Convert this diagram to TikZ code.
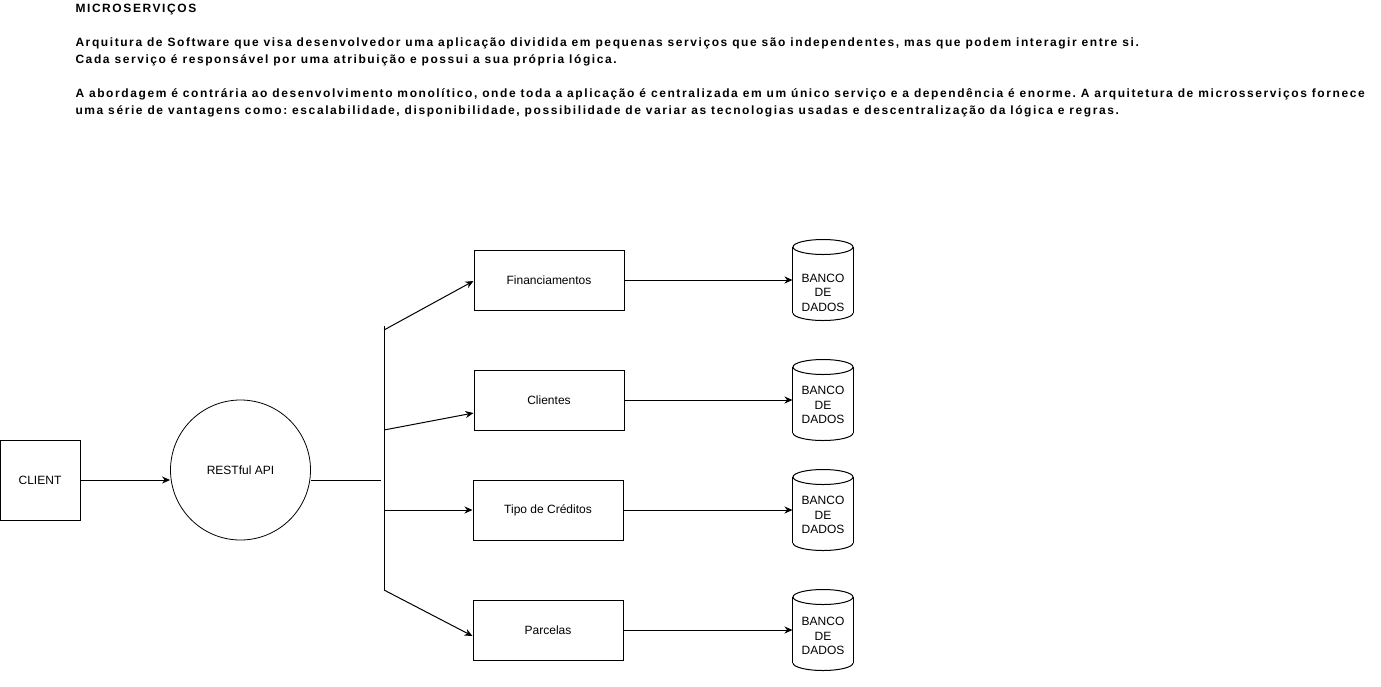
\documentclass[tikz,border=0pt]{standalone}
\usepackage{fontspec}
\setmainfont{Liberation Sans}
\newfontfamily\hdrfont[LetterSpace=13.2]{Liberation Sans}
\usetikzlibrary{arrows.meta,calc}
\frenchspacing
\begin{document}
\begin{tikzpicture}[x=1pt,y=-1pt,line width=1pt,
  txt/.style={font=\fontsize{12}{14.4}\selectfont},
  box/.style={draw,rectangle,minimum width=150pt,minimum height=60pt,inner sep=0pt,txt},
  dbshape/.style={rectangle,minimum width=60pt,minimum height=80pt,inner sep=0pt},
  dbtext/.style={txt,align=center,inner sep=0pt},
  arr/.style={-{Stealth[length=8pt,width=7pt,inset=2.5pt]}},
  plain/.style={-}]
\useasboundingbox (0,0) rectangle (1381,686);

% header text
\node[anchor=north west,inner sep=0pt,align=left,font=\hdrfont\bfseries\fontsize{12}{17}\selectfont] (header) at (75,3.2)
{MICROSERVIÇOS\\[17pt]
Arquitura de Software que visa desenvolvedor uma aplicação dividida em pequenas serviços que são independentes, mas que podem interagir entre si.\\
Cada serviço é responsável por uma atribuição e possui a sua própria lógica.\\[17pt]
A abordagem é contrária ao desenvolvimento monolítico, onde toda a aplicação é centralizada em um único serviço e a dependência é enorme. A arquitetura de microsserviços fornece\\
uma série de vantagens como: escalabilidade, disponibilidade, possibilidade de variar as tecnologias usadas e descentralização da lógica e regras.};

% client and api
\node[draw,rectangle,minimum width=80pt,minimum height=80pt,inner sep=0pt,txt] (client) at (40,480) {CLIENT};
\node[draw,circle,minimum size=140pt,inner sep=0pt,txt,line width=0.8pt] (api) at (240.5,470) {RESTful API};

% services
\node[box] (fin) at (549,280) {Financiamentos};
\node[box] (cli) at (549,400) {Clientes};
\node[box] (tip) at (548,510) {Tipo de Créditos};
\node[box] (par) at (548,630) {Parcelas};

% databases
\node[dbshape,label={[dbtext,yshift=-12.5pt]center:BANCO\\DE\\DADOS}] (db1) at (823,280) {};
\node[dbshape,label={[dbtext,yshift=-5pt]center:BANCO\\DE\\DADOS}] (db2) at (823,400) {};
\node[dbshape,label={[dbtext,yshift=-5pt]center:BANCO\\DE\\DADOS}] (db3) at (823,510) {};
\node[dbshape,label={[dbtext,yshift=-6pt]center:BANCO\\DE\\DADOS}] (db4) at (823,630) {};

\foreach \d in {db1,db2,db3,db4}{
  \draw ($(\d.north)+(0,7.5)$) ellipse [x radius=30,y radius=7.5];
  \draw ($(\d.north west)+(0,7.5)$) -- ($(\d.south west)+(0,-7.5)$);
  \draw ($(\d.north east)+(0,7.5)$) -- ($(\d.south east)+(0,-7.5)$);
  \begin{scope}
    \clip ($(\d.south west)+(-2,-7.5)$) rectangle ($(\d.south east)+(2,2)$);
    \draw ($(\d.south)+(0,-7.5)$) ellipse [x radius=30,y radius=7.5];
  \end{scope}
}

% hub
\coordinate (hub) at (381,480);
\coordinate (vtop) at (384,326);
\coordinate (vbot) at (384,590);
\coordinate (b1) at (384,330);
\coordinate (b2) at (384,430);
\coordinate (b3) at (384,510);
\coordinate (b4) at (384,590);

\draw[arr] (client.east) -- (api.west |- client.east);
\draw[plain] (api.east |- hub) -- (hub);
\draw[plain] (vtop) -- (vbot);
\draw[arr] (b1) -- ([yshift=-1pt]fin.west);
\draw[arr] (b2) -- ([yshift=-13pt]cli.west);
\draw[arr] (b3) -- (tip.west);
\draw[arr] (b4) -- ([yshift=-6pt]par.west);

\draw[arr] (fin) -- (db1);
\draw[arr] (cli) -- (db2);
\draw[arr] (tip) -- (db3);
\draw[arr] (par) -- (db4);
\end{tikzpicture}
\end{document}
